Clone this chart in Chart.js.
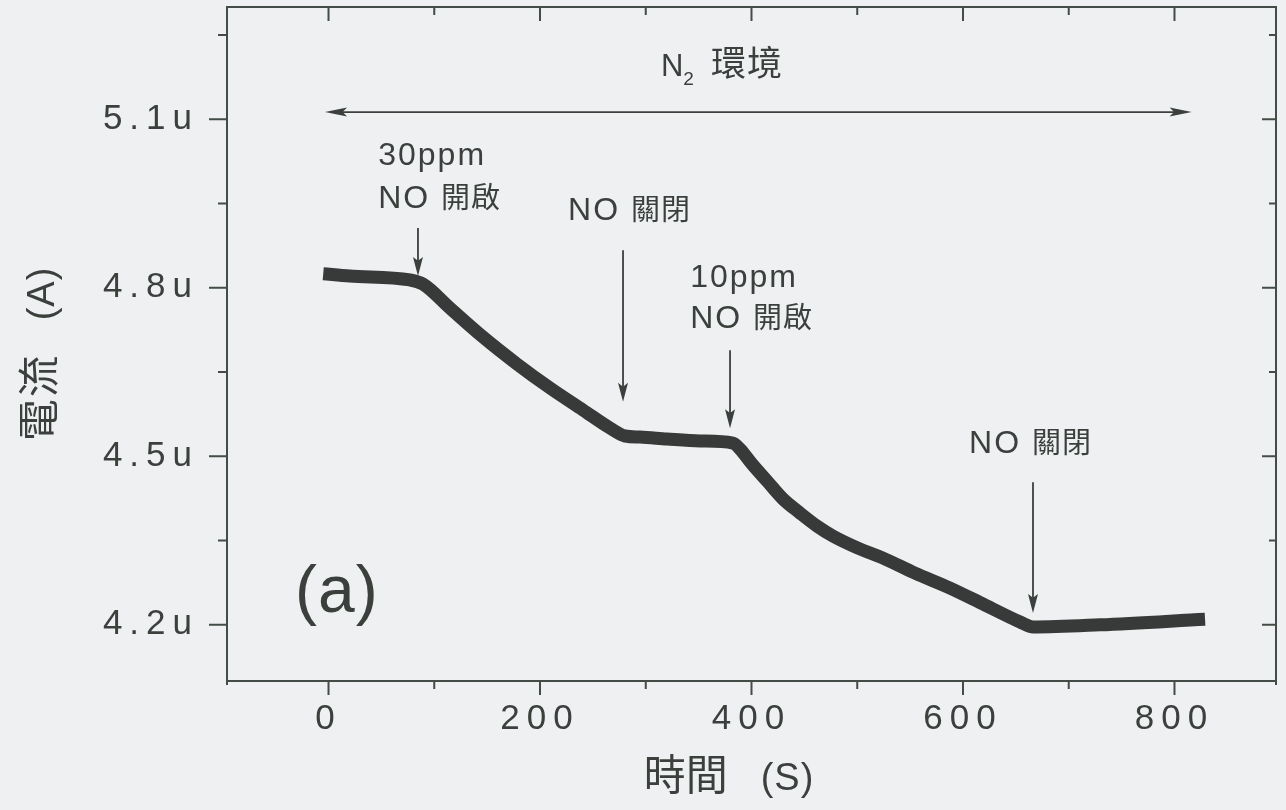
<!DOCTYPE html>
<html>
<head>
<meta charset="utf-8">
<script src="https://cdn.jsdelivr.net/npm/chart.js@4.4.1/dist/chart.umd.min.js"></script>
<style>
  html, body { margin: 0; padding: 0; background: #eef0f2; }
  canvas { display: block; }
</style>
</head>
<body>
<canvas id="c" width="1286" height="810"></canvas>
<script>
// Sensor current under N2, NO switched on/off (time in s, current in µA)
const timeS = [-5, 20, 77, 89.4, 114.9, 146.1, 178.3, 209.5, 240.7, 266.2, 280.4, 294.6, 320.1, 351.3, 382.5, 389.1, 400.5, 414.7, 429.8, 445.9, 462.0, 477.1, 500.7, 524.4, 554.6, 587.8, 620.9, 654.0, 666.3, 729.6, 828.9];
const currentUA = [4.825, 4.821, 4.814, 4.8065, 4.7638, 4.7124, 4.6643, 4.6216, 4.5824, 4.5504, 4.5362, 4.5344, 4.5308, 4.5273, 4.5237, 4.5130, 4.4863, 4.4560, 4.4240, 4.3990, 4.3758, 4.3580, 4.3366, 4.3188, 4.2921, 4.2655, 4.2352, 4.2050, 4.1961, 4.2000, 4.2100];

// Axis ticks (minor + major)
const xTicks = [0, 100, 200, 300, 400, 500, 600, 700, 800];
const yTicks = [4.2, 4.35, 4.5, 4.65, 4.8, 4.95, 5.1, 5.25];

// Event markers: label lines and arrow (time, arrow top, arrow tip)
const eventLabels = [
  { t: 47,  y: 5.0186, parts: [['30ppm', 'L']] },
  { t: 47,  y: 4.942,  parts: [['NO ', 'L'], ['開啟', 'C']] },
  { t: 226.5, y: 4.9207, parts: [['NO ', 'L'], ['關閉', 'C']] },
  { t: 342, y: 4.8014, parts: [['10ppm', 'L']] },
  { t: 342, y: 4.7285, parts: [['NO ', 'L'], ['開啟', 'C']] },
  { t: 605.7, y: 4.5059, parts: [['NO ', 'L'], ['關閉', 'C']] }
];
const eventArrows = [
  { t: 84.6,  top: 4.9065, tip: 4.821 },
  { t: 278.5, top: 4.867,  tip: 4.597 },
  { t: 379.7, top: 4.689,  tip: 4.550 },
  { t: 666.2, top: 4.454,  tip: 4.221 }
];
const envSpan = { from: -3.3, to: 816.2, y: 5.113 };

const INK = '#3b403d';
const AXIS = '#434c46';
const LATIN = '"Liberation Sans", Arial, sans-serif';
const CJK = '"Noto Sans CJK TC", "Noto Sans CJK SC", sans-serif';

function drawRuns(ctx, parts, x, y, align) {
  const fonts = {
    L: { font: '32px ' + LATIN, ls: '2px' },
    C: { font: '29px ' + CJK, ls: '1px' }
  };
  let w = 0;
  const sized = parts.map(([t, k]) => {
    const f = typeof k === 'string' ? fonts[k] : k;
    ctx.font = f.font; ctx.letterSpacing = f.ls;
    const m = ctx.measureText(t).width;
    w += m + (f.gap || 0);
    return { t, f, m };
  });
  let cx = align === 'center' ? x - w / 2 : x;
  ctx.textAlign = 'left';
  ctx.textBaseline = 'alphabetic';
  sized.forEach(s => {
    ctx.font = s.f.font; ctx.letterSpacing = s.f.ls;
    ctx.fillText(s.t, cx, y + (s.f.dy || 0));
    cx += s.m + (s.f.gap || 0);
  });
}

function head(ctx, tx, ty, dx, dy, len, half) {
  const nx = -dy, ny = dx;
  ctx.beginPath();
  ctx.moveTo(tx, ty);
  ctx.lineTo(tx - dx * len + nx * half, ty - dy * len + ny * half);
  ctx.lineTo(tx - dx * len * 0.8, ty - dy * len * 0.8);
  ctx.lineTo(tx - dx * len - nx * half, ty - dy * len - ny * half);
  ctx.closePath();
  ctx.fill();
}

const spacing = {
  id: 'spacing',
  beforeDraw(chart) { chart.ctx.letterSpacing = '7px'; },
  beforeDatasetsDraw(chart) { chart.ctx.letterSpacing = '0px'; }
};

const frame = {
  id: 'frame',
  afterDraw(chart) {
    const { ctx, chartArea: a, scales: { x, y } } = chart;
    ctx.save();
    ctx.letterSpacing = '0px';
    ctx.strokeStyle = AXIS;
    ctx.lineWidth = 2;
    ctx.beginPath();
    ctx.moveTo(a.left, a.top - 1); ctx.lineTo(a.left, a.bottom + 4);
    ctx.moveTo(a.right, a.top - 1); ctx.lineTo(a.right, a.bottom + 4);
    ctx.moveTo(a.left - 1, a.top); ctx.lineTo(a.right + 1, a.top);
    ctx.moveTo(a.left - 1, a.bottom); ctx.lineTo(a.right + 1, a.bottom);
    x.ticks.forEach(tk => {
      const px = x.getPixelForValue(tk.value);
      const L = tk.value % 200 === 0 ? 14 : 8;
      ctx.moveTo(px, a.bottom); ctx.lineTo(px, a.bottom + L);
      ctx.moveTo(px, a.top); ctx.lineTo(px, a.top + L);
    });
    y.ticks.forEach(tk => {
      const py = y.getPixelForValue(tk.value);
      const major = Math.round(tk.value * 100) % 30 === 0;
      ctx.moveTo(a.left - (major ? 18 : 9), py); ctx.lineTo(a.left, py);
      ctx.moveTo(a.right - (major ? 14 : 7), py); ctx.lineTo(a.right, py);
    });
    ctx.stroke();

    // event arrows
    ctx.strokeStyle = INK;
    ctx.fillStyle = INK;
    ctx.lineWidth = 1.8;
    eventArrows.forEach(ar => {
      const px = x.getPixelForValue(ar.t);
      const y0 = y.getPixelForValue(ar.top), y1 = y.getPixelForValue(ar.tip);
      ctx.beginPath(); ctx.moveTo(px, y0); ctx.lineTo(px, y1 - 10); ctx.stroke();
      head(ctx, px, y1, 0, 1, 19, 5);
    });

    // N2 environment span
    const ey = y.getPixelForValue(envSpan.y);
    const ex0 = x.getPixelForValue(envSpan.from), ex1 = x.getPixelForValue(envSpan.to);
    ctx.beginPath(); ctx.moveTo(ex0 + 10, ey); ctx.lineTo(ex1 - 10, ey); ctx.stroke();
    head(ctx, ex0, ey, -1, 0, 22, 4.5);
    head(ctx, ex1, ey, 1, 0, 22, 4.5);

    // labels
    eventLabels.forEach(l => drawRuns(ctx, l.parts, x.getPixelForValue(l.t), y.getPixelForValue(l.y), 'left'));
    drawRuns(ctx, [
      ['N', { font: '31px ' + LATIN, ls: '0px' }],
      ['2', { font: '19px ' + LATIN, ls: '0px', dy: 9, gap: 17 }],
      ['環境', { font: '35px ' + CJK, ls: '1px' }]
    ], x.getPixelForValue(314.4), y.getPixelForValue(5.1771), 'left');

    ctx.font = '66px ' + LATIN;
    ctx.letterSpacing = '1px';
    ctx.textAlign = 'left';
    ctx.fillText('(a)', x.getPixelForValue(-31.7), y.getPixelForValue(4.2228));

    // axis titles
    drawRuns(ctx, [
      ['時間', { font: '42px ' + CJK, ls: '0px', gap: 33 }],
      ['(S)', { font: '38px ' + LATIN, ls: '1px' }]
    ], 729, 790, 'center');

    ctx.save();
    ctx.translate(54, 354);
    ctx.rotate(-Math.PI / 2);
    drawRuns(ctx, [
      ['電流', { font: '42px ' + CJK, ls: '2px', gap: 33 }],
      ['(A)', { font: '38px ' + LATIN, ls: '1px' }]
    ], 0, 0, 'center');
    ctx.restore();
    ctx.restore();
  }
};

new Chart(document.getElementById('c'), {
  type: 'line',
  data: {
    datasets: [{
      data: timeS.map((t, i) => ({ x: t, y: currentUA[i] })),
      borderColor: '#383a39',
      borderWidth: 13,
      borderCapStyle: 'butt',
      borderJoinStyle: 'miter',
      pointRadius: 0,
      cubicInterpolationMode: 'monotone',
      fill: false
    }]
  },
  options: {
    responsive: false,
    animation: false,
    devicePixelRatio: 1,
    layout: { padding: { top: 7, right: 10, left: 0, bottom: 0 } },
    plugins: { legend: { display: false }, tooltip: { enabled: false } },
    scales: {
      x: {
        type: 'linear',
        min: -96, max: 896,
        grid: { display: false, drawTicks: false },
        border: { display: false },
        afterBuildTicks: s => { s.ticks = xTicks.map(v => ({ value: v })); },
        afterFit: s => { s.height = 129; s.paddingLeft = 0; s.paddingRight = 0; },
        ticks: {
          autoSkip: false, maxRotation: 0, padding: 17,
          color: INK, font: { family: LATIN, size: 35 },
          callback: v => (v % 200 === 0 ? String(v) : '')
        }
      },
      y: {
        min: 4.1, max: 5.3,
        grid: { display: false, drawTicks: false },
        border: { display: false },
        afterBuildTicks: s => { s.ticks = yTicks.map(v => ({ value: v })); },
        afterFit: s => { s.width = 227; s.paddingTop = 0; s.paddingBottom = 0; },
        ticks: {
          autoSkip: false, padding: 28,
          color: INK, font: { family: LATIN, size: 35 },
          callback: v => (Math.round(v * 100) % 30 === 0 ? v.toFixed(1) + 'u' : '')
        }
      }
    }
  },
  plugins: [spacing, frame]
});
</script>
</body>
</html>
